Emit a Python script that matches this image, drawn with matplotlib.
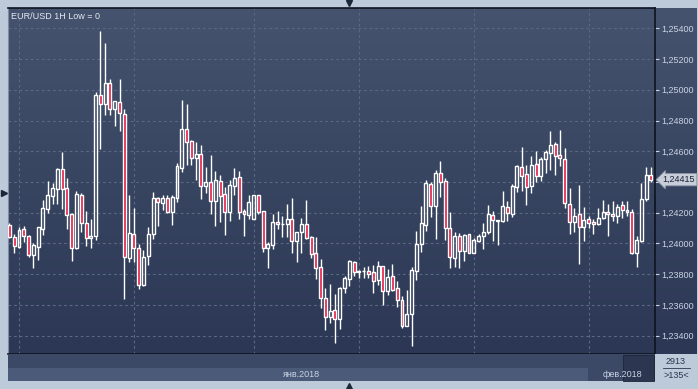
import numpy as np
import matplotlib
matplotlib.use('Agg')
import matplotlib.pyplot as plt
from matplotlib.patches import Rectangle
from matplotlib.lines import Line2D
from matplotlib.colors import LinearSegmentedColormap
from matplotlib.transforms import blended_transform_factory

# hourly EUR/USD candles
opens = [1.24120, 1.24042, 1.23979, 1.24092, 1.24047, 1.23927, 1.23979, 1.24096, 1.24227, 1.24311,
         1.24357, 1.24485, 1.24359, 1.24190, 1.23973, 1.24316, 1.24131, 1.24033, 1.24051, 1.24966,
         1.24905, 1.25042, 1.24873, 1.24918, 1.24840, 1.23903, 1.24062, 1.23969, 1.23732, 1.23916,
         1.24060, 1.24294, 1.24261, 1.24296, 1.24207, 1.24298, 1.24493, 1.24743, 1.24665, 1.24554,
         1.24580, 1.24376, 1.24398, 1.24279, 1.24407, 1.24322, 1.24207, 1.24376, 1.24430, 1.24209,
         1.24185, 1.24162, 1.24313, 1.24209, 1.23969, 1.23992, 1.24142, 1.24125, 1.24129, 1.24157,
         1.24018, 1.24073, 1.24125, 1.24042, 1.23936, 1.23845, 1.23647, 1.23520, 1.23565, 1.23511,
         1.23708, 1.23767, 1.23877, 1.23817, 1.23819, 1.23818, 1.23812, 1.23762, 1.23851, 1.23693,
         1.23786, 1.23708, 1.23630, 1.23465, 1.23539, 1.23823, 1.23995, 1.24122, 1.24385, 1.24246,
         1.24457, 1.24407, 1.24099, 1.23903, 1.24049, 1.23953, 1.24060, 1.23940, 1.24018, 1.24049,
         1.24077, 1.24185, 1.24151, 1.24148, 1.24237, 1.24194, 1.24370, 1.24496, 1.24452, 1.24376,
         1.24515, 1.24441, 1.24548, 1.24591, 1.24647, 1.24576, 1.24548, 1.24255, 1.24142, 1.24190,
         1.24105, 1.24157, 1.24138, 1.24125, 1.24168, 1.24207, 1.24190, 1.24177, 1.24248, 1.24216,
         1.24207, 1.23940, 1.24016, 1.24290, 1.24443]
highs = [1.24131, 1.24062, 1.24109, 1.24114, 1.24055, 1.24001, 1.24110, 1.24283, 1.24407, 1.24394,
         1.24491, 1.24598, 1.24426, 1.24201, 1.24342, 1.24326, 1.24211, 1.24159, 1.24986, 1.25383,
         1.25305, 1.25072, 1.24930, 1.25070, 1.24875, 1.24316, 1.24233, 1.23995, 1.23958, 1.24107,
         1.24337, 1.24300, 1.24316, 1.24316, 1.24316, 1.24524, 1.24934, 1.24908, 1.24673, 1.24663,
         1.24641, 1.24496, 1.24576, 1.24472, 1.24446, 1.24368, 1.24413, 1.24489, 1.24472, 1.24224,
         1.24316, 1.24318, 1.24318, 1.24212, 1.24012, 1.24192, 1.24211, 1.24179, 1.24257, 1.24296,
         1.24077, 1.24168, 1.24283, 1.24051, 1.24042, 1.23899, 1.23708, 1.23736, 1.23669, 1.23719,
         1.23791, 1.23893, 1.23886, 1.23828, 1.23849, 1.23856, 1.23860, 1.23886, 1.23856, 1.23832,
         1.23864, 1.23756, 1.23656, 1.23697, 1.23845, 1.24081, 1.24244, 1.24413, 1.24402, 1.24478,
         1.24537, 1.24424, 1.24203, 1.24077, 1.24066, 1.24062, 1.24064, 1.24033, 1.24060, 1.24131,
         1.24250, 1.24211, 1.24155, 1.24342, 1.24277, 1.24385, 1.24511, 1.24626, 1.24511, 1.24569,
         1.24602, 1.24565, 1.24606, 1.24732, 1.24663, 1.24738, 1.24623, 1.24363, 1.24233, 1.24381,
         1.24237, 1.24181, 1.24157, 1.24229, 1.24283, 1.24257, 1.24277, 1.24257, 1.24277, 1.24277,
         1.24224, 1.24049, 1.24396, 1.24498, 1.24498]
lows = [1.24033, 1.23938, 1.23973, 1.24012, 1.23910, 1.23843, 1.23895, 1.24055, 1.24201, 1.24257,
        1.24257, 1.24227, 1.24092, 1.23888, 1.23965, 1.24077, 1.23986, 1.23973, 1.24025, 1.24617,
        1.24836, 1.24834, 1.24767, 1.24732, 1.23639, 1.23882, 1.23882, 1.23704, 1.23725, 1.23860,
        1.24029, 1.24114, 1.24218, 1.24201, 1.24120, 1.24272, 1.24467, 1.24511, 1.24511, 1.24413,
        1.24290, 1.24331, 1.24192, 1.24114, 1.24142, 1.24055, 1.24148, 1.24316, 1.24159, 1.24051,
        1.24159, 1.24158, 1.24194, 1.23947, 1.23843, 1.23964, 1.24094, 1.24042, 1.24042, 1.23938,
        1.23882, 1.23938, 1.24030, 1.23903, 1.23769, 1.23582, 1.23439, 1.23485, 1.23350, 1.23441,
        1.23676, 1.23726, 1.23791, 1.23778, 1.23778, 1.23778, 1.23680, 1.23730, 1.23600, 1.23665,
        1.23693, 1.23589, 1.23448, 1.23460, 1.23335, 1.23762, 1.23947, 1.24081, 1.24170, 1.24029,
        1.24302, 1.24025, 1.23838, 1.23849, 1.23843, 1.23888, 1.23936, 1.23936, 1.24008, 1.23962,
        1.24060, 1.24018, 1.23990, 1.24138, 1.24148, 1.24175, 1.24337, 1.24342, 1.24250, 1.24331,
        1.24398, 1.24407, 1.24461, 1.24478, 1.24446, 1.24506, 1.24229, 1.24060, 1.24077, 1.23864,
        1.24018, 1.24099, 1.24060, 1.24120, 1.24159, 1.24051, 1.24148, 1.24136, 1.24164, 1.24179,
        1.23930, 1.23849, 1.24012, 1.24279, 1.24402]
closes = [1.24040, 1.23986, 1.24086, 1.24047, 1.23927, 1.23990, 1.24107, 1.24231, 1.24313, 1.24361,
          1.24485, 1.24357, 1.24188, 1.23969, 1.24320, 1.24136, 1.24033, 1.24049, 1.24966, 1.24905,
          1.25042, 1.24873, 1.24927, 1.24847, 1.23910, 1.24066, 1.23969, 1.23732, 1.23910, 1.24060,
          1.24294, 1.24268, 1.24296, 1.24207, 1.24305, 1.24502, 1.24743, 1.24663, 1.24554, 1.24580,
          1.24376, 1.24398, 1.24279, 1.24411, 1.24311, 1.24207, 1.24381, 1.24424, 1.24207, 1.24194,
          1.24268, 1.24313, 1.24203, 1.23969, 1.23995, 1.24138, 1.24125, 1.24126, 1.24157, 1.24018,
          1.24073, 1.24125, 1.24033, 1.23934, 1.23843, 1.23643, 1.23520, 1.23561, 1.23511, 1.23708,
          1.23773, 1.23886, 1.23817, 1.23819, 1.23818, 1.23804, 1.23758, 1.23851, 1.23693, 1.23780,
          1.23697, 1.23630, 1.23465, 1.23539, 1.23828, 1.23997, 1.24131, 1.24391, 1.24246, 1.24457,
          1.24402, 1.24099, 1.23910, 1.24049, 1.23953, 1.24055, 1.23940, 1.24023, 1.24049, 1.24077,
          1.24190, 1.24151, 1.24148, 1.24242, 1.24196, 1.24374, 1.24502, 1.24441, 1.24370, 1.24511,
          1.24441, 1.24550, 1.24595, 1.24641, 1.24571, 1.24554, 1.24261, 1.24142, 1.24181, 1.24109,
          1.24151, 1.24131, 1.24125, 1.24164, 1.24205, 1.24190, 1.24177, 1.24240, 1.24216, 1.24203,
          1.23936, 1.24020, 1.24287, 1.24443, 1.24415]

day_pos = [2, 26, 51, 73, 97, 121]
day_labels = ['25', '26', '29', '30', '31', '01']
month_labels = ['янв.2018', 'фев.2018']
price_ticks = [1.234, 1.236, 1.238, 1.240, 1.242, 1.244, 1.246, 1.248, 1.250, 1.252, 1.254]
title = 'EUR/USD 1H Low = 0'
bars_total = '2913'
bars_shown = '>135<'

W, H = 698, 389
plt.rcParams['font.family'] = ['Liberation Sans', 'DejaVu Sans']
fs = 6.5
light = '#c9d3e4'

fig = plt.figure(figsize=(W / 100, H / 100), dpi=100, facecolor='#bccada')


def box(x0, y0, x1, y1):
	# pixel box, origin top-left -> figure fraction
	return [x0 / W, 1 - y1 / H, (x1 - x0) / W, (y1 - y0) / H]


def rect(x0, y0, x1, y1, color, ec='none', lw=0):
	fig.add_artist(Rectangle((x0 / W, 1 - y1 / H), (x1 - x0) / W, (y1 - y0) / H,
	                         transform=fig.transFigure, facecolor=color, edgecolor=ec, lw=lw))


def tri(x, y, m, size=5, color='#1b2638'):
	fig.add_artist(Line2D([x / W], [1 - y / H], marker=m, markersize=size, color=color,
	                      transform=fig.transFigure, ls='none'))


# gradient background of plot + price scale
bg = fig.add_axes(box(8, 8, 697, 354))
cmap = LinearSegmentedColormap.from_list('bg', ['#45536e', '#2b3754'])
bg.imshow(np.linspace(0, 1, 256).reshape(-1, 1), cmap=cmap, aspect='auto', extent=[0, 1, 0, 1])
bg.axis('off')

ax = fig.add_axes(box(8, 8, 655, 354))
ax.patch.set_alpha(0)

o = np.array(opens)
c = np.array(closes)
h = np.array(highs)
l = np.array(lows)
x = np.arange(len(o))
up = c >= o
top = np.maximum(o, c)
bot = np.minimum(o, c)

ax.vlines(x, top, h, color='white', lw=1, zorder=3)
ax.vlines(x, l, bot, color='white', lw=1, zorder=3)
ax.bar(x[up], (top - bot)[up], bottom=bot[up], width=0.62, facecolor='none',
       edgecolor='white', lw=1, zorder=4)
ax.bar(x[~up], (top - bot)[~up], bottom=bot[~up], width=0.62, facecolor='#e3163f',
       edgecolor='white', lw=1, zorder=4)

ax.set_xlim(-0.3, len(o) - 0.15)
ax.set_ylim(1.23281, 1.25532)

# the scale label hidden under the last price marker is left empty
last = closes[-1]
ylabels = ['' if abs(p - last) < 0.0005 else f'{p:.5f}'.replace('.', ',') for p in price_ticks]
ax.set_xticks(day_pos, day_labels)
ax.set_yticks(price_ticks, ylabels)
ax.yaxis.tick_right()
ax.grid(True, color='#5a6884', ls=(0, (2.5, 2.5)), lw=0.8, zorder=1)
ax.tick_params(axis='x', length=0, pad=3.5, labelsize=fs, labelcolor=light)
ax.tick_params(axis='y', length=3, width=0.8, color=light, pad=1.5, labelsize=fs, labelcolor=light)

for s in ['top', 'bottom', 'right']:
	ax.spines[s].set_color('#0d1420')
	ax.spines[s].set_linewidth(1.2)
ax.spines['left'].set_color('#7e8ca4')

ax.text(0.004, 0.988, title, transform=ax.transAxes, ha='left', va='top',
        fontsize=fs, color='#e4e9f2')

# last price marker on the scale
tr = blended_transform_factory(ax.transAxes, ax.transData)
ax.text(1.012, last, f'{last:.5f}'.replace('.', ','), transform=tr,
        ha='left', va='center', fontsize=fs, color='#1c2436', zorder=10, clip_on=False,
        bbox=dict(boxstyle='larrow,pad=0.18', fc='#c7ced9', ec='#8b95a6', lw=0.6))

# time scale strips under the chart
rect(8, 354, 655, 368, '#3b4866')
rect(8, 368, 588, 381, '#4b5a78')
rect(588, 368, 655, 381, '#3b4866')
rect(623, 355, 654, 381, '#2c3650', ec='#1e2638', lw=0.6)
fig.text(301 / W, 1 - 374.5 / H, month_labels[0], ha='center', va='center', fontsize=fs, color=light)
fig.text(622 / W, 1 - 374.5 / H, month_labels[1], ha='center', va='center', fontsize=fs, color=light)

# bar counter box
rect(655, 354, 697, 381, '#bccada')
fig.text(676 / W, 1 - 361 / H, bars_total, ha='center', va='center', fontsize=fs, color='#2b3652')
fig.add_artist(Line2D([663 / W, 690 / W], [1 - 368 / H, 1 - 368 / H], color='#2b3652', lw=0.6,
                      transform=fig.transFigure))
fig.text(676 / W, 1 - 375.5 / H, bars_shown, ha='center', va='center', fontsize=fs, color='#2b3652')

tri(349, 3, 'v')
tri(349, 386, '^')
tri(4, 193, '>')

fig.savefig('out.png', dpi=100, facecolor=fig.get_facecolor())
